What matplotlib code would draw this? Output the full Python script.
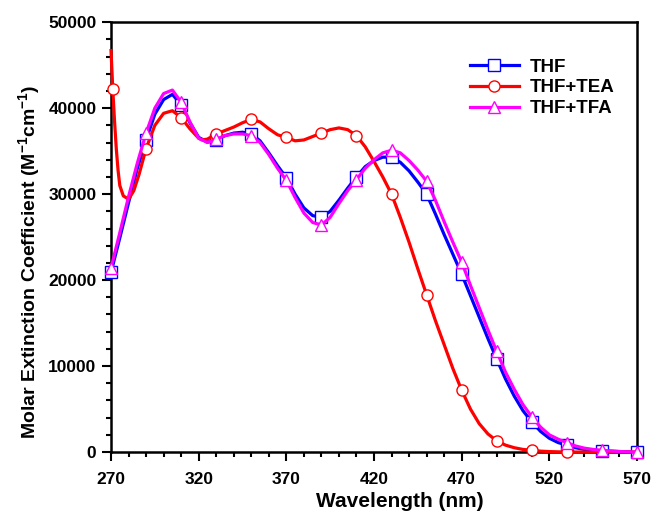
import numpy as np
import matplotlib
matplotlib.use('Agg')
import matplotlib.pyplot as plt

plt.rcParams['font.family'] = ['Liberation Sans', 'DejaVu Sans']
plt.rcParams['font.weight'] = 'bold'
plt.rcParams['mathtext.fontset'] = 'custom'
plt.rcParams['mathtext.rm'] = 'Liberation Sans:bold'
plt.rcParams['mathtext.bf'] = 'Liberation Sans:bold'
plt.rcParams['mathtext.default'] = 'bf'

# THF (blue, squares)
wl_thf = [270, 275, 280, 285, 290, 295, 300, 305, 310, 315, 320, 325, 330, 335, 340,
          345, 350, 355, 360, 365, 370, 375, 380, 385, 390, 395, 400, 405, 410, 415,
          420, 425, 430, 435, 440, 445, 450, 455, 460, 465, 470, 475, 480, 485, 490,
          495, 500, 505, 510, 515, 520, 525, 530, 535, 540, 545, 550, 555, 560, 565, 570]
thf = [20900, 24900, 29000, 33000, 36300, 39300, 41000, 41600, 40400, 38300, 36600,
       36050, 36300, 36800, 37100, 37200, 37000, 36200, 34800, 33300, 31900, 30000,
       28400, 27500, 27300, 28000, 29300, 30700, 32000, 33200, 33900, 34300, 34300,
       33700, 32700, 31400, 30000, 27700, 25300, 23000, 20700, 18200, 15700, 13200,
       10800, 8500, 6500, 4800, 3500, 2400, 1600, 1100, 800, 500, 300, 200, 150, 100,
       50, 20, 0]

# THF+TEA (red, circles)
wl_tea = [270, 271, 272, 273, 274, 275, 277, 280, 283, 286, 290, 295, 300, 305, 310,
          315, 320, 322, 325, 330, 335, 340, 345, 350, 355, 360, 365, 370, 375, 380,
          385, 390, 395, 400, 405, 410, 415, 420, 425, 430, 435, 440, 445, 450, 455,
          460, 465, 470, 475, 480, 485, 490, 495, 500, 505, 510, 515, 520, 525, 530,
          550, 570]
tea = [46700, 42200, 38500, 35300, 32800, 31000, 29800, 29400, 30400, 32300, 35300,
       38000, 39400, 39700, 38900, 37600, 36500, 36300, 36400, 37000, 37400, 37800,
       38300, 38700, 38400, 37600, 36900, 36600, 36200, 36300, 36700, 37100, 37500,
       37700, 37500, 36800, 35500, 33800, 32000, 30000, 27300, 24400, 21300, 18300,
       15300, 12500, 9700, 7200, 5000, 3300, 2100, 1300, 800, 500, 300, 200, 100, 50,
       20, 0, 0, 0]

# THF+TFA (magenta, triangles)
wl_tfa = wl_thf
tfa = [21400, 25500, 29700, 33600, 37100, 40000, 41700, 42100, 40700, 38400, 36500,
       36000, 36400, 36800, 37000, 37000, 36800, 36000, 34600, 33000, 31600, 29600,
       27800, 26700, 26400, 27300, 28900, 30400, 31700, 33000, 34000, 34800, 35100,
       34800, 33900, 32800, 31500, 29300, 26800, 24400, 22100, 19400, 16800, 14200,
       11700, 9300, 7300, 5500, 4100, 2900, 2000, 1500, 1100, 700, 450, 300, 200, 120,
       60, 20, 0]

mark_thf = [270, 290, 310, 330, 350, 370, 390, 410, 430, 450, 470, 490, 510, 530, 550, 570]
mark_tea = [271, 290, 310, 330, 350, 370, 390, 410, 430, 450, 470, 490, 510, 530]

fig = plt.figure(figsize=(6.55, 5.16), dpi=100)
ax = fig.add_axes([0.1695, 0.124, 0.803, 0.833])

series = [
    (wl_thf, thf, mark_thf, '#0000ff', 's', 'THF'),
    (wl_tea, tea, mark_tea, '#ff0000', 'o', 'THF+TEA'),
    (wl_tfa, tfa, mark_thf, '#ff00ff', '^', 'THF+TFA'),
]
for wl, vals, marks, col, mk, lab in series:
    idx = [wl.index(m) for m in marks]
    ax.plot(wl, vals, color=col, lw=2.3, marker=mk, markevery=idx, ms=8,
            mfc='white', mec=col, mew=1, label=lab, clip_on=False, zorder=3)

ax.set_xlim(270, 570)
ax.set_ylim(0, 50000)
ax.set_xticks(np.arange(270, 571, 50))
ax.set_xticks(np.arange(270, 571, 10), minor=True)
ax.set_yticks(np.arange(0, 50001, 10000))
ax.set_yticks(np.arange(0, 50001, 2000), minor=True)
ax.tick_params(which='both', direction='out', width=1.5, top=False, right=False,
               labelsize=12.5)
ax.tick_params(which='major', length=6.5)
ax.tick_params(which='minor', length=3.5)
ax.tick_params(axis='x', which='major', pad=8)
ax.tick_params(axis='y', which='major', pad=4)
for s in ax.spines.values():
    s.set_linewidth(1.8)
for t in ax.get_xticklabels() + ax.get_yticklabels():
    t.set_fontweight('bold')

ax.set_xlabel('Wavelength (nm)', fontsize=15, fontweight='bold')
ax.xaxis.set_label_coords(0.55, -0.093)
ax.set_ylabel(r'Molar Extinction Coefficient (M$^{-1}$cm$^{-1}$)', fontsize=14,
              fontweight='bold')
ax.yaxis.set_label_coords(-0.131, 0.442)

leg = ax.legend(loc='upper right', bbox_to_anchor=(0.99, 0.955), frameon=False,
                fontsize=13.5, handlelength=2.6, labelspacing=0.2, handletextpad=0.6)
for t in leg.get_texts():
    t.set_fontweight('bold')

fig.savefig('out.png', dpi=100)
